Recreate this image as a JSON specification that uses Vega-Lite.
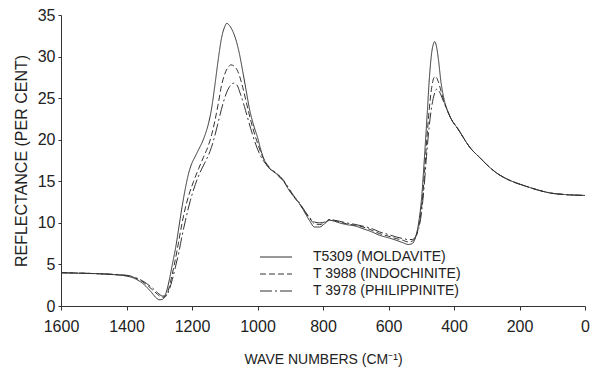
{
  "$schema": "https://vega.github.io/schema/vega-lite/v6.json",
  "autosize": {"type": "none"},
  "width": 524,
  "height": 291,
  "padding": {"left": 61, "top": 15, "right": 7, "bottom": 66},
  "background": "white",
  "config": {
    "view": {"stroke": null},
    "font": "Liberation Sans",
    "axis": {
      "grid": false,
      "domainColor": "#333",
      "domainWidth": 1,
      "tickColor": "#333",
      "labelColor": "#222",
      "titleColor": "#222",
      "labelFont": "Liberation Sans",
      "titleFont": "Liberation Sans",
      "titleFontWeight": "normal",
      "labelFontSize": 16
    }
  },
  "data": {
    "values": [
      {"w": 1600, "r": 4.0, "s": "T5309 (MOLDAVITE)"},
      {"w": 1550, "r": 3.95, "s": "T5309 (MOLDAVITE)"},
      {"w": 1500, "r": 3.9, "s": "T5309 (MOLDAVITE)"},
      {"w": 1450, "r": 3.8, "s": "T5309 (MOLDAVITE)"},
      {"w": 1400, "r": 3.6, "s": "T5309 (MOLDAVITE)"},
      {"w": 1375, "r": 3.3, "s": "T5309 (MOLDAVITE)"},
      {"w": 1350, "r": 2.7, "s": "T5309 (MOLDAVITE)"},
      {"w": 1325, "r": 1.7, "s": "T5309 (MOLDAVITE)"},
      {"w": 1310, "r": 1.0, "s": "T5309 (MOLDAVITE)"},
      {"w": 1300, "r": 0.75, "s": "T5309 (MOLDAVITE)"},
      {"w": 1290, "r": 0.8, "s": "T5309 (MOLDAVITE)"},
      {"w": 1280, "r": 1.5, "s": "T5309 (MOLDAVITE)"},
      {"w": 1270, "r": 3.0, "s": "T5309 (MOLDAVITE)"},
      {"w": 1260, "r": 5.0, "s": "T5309 (MOLDAVITE)"},
      {"w": 1250, "r": 7.0, "s": "T5309 (MOLDAVITE)"},
      {"w": 1240, "r": 9.5, "s": "T5309 (MOLDAVITE)"},
      {"w": 1230, "r": 12.0, "s": "T5309 (MOLDAVITE)"},
      {"w": 1220, "r": 14.2, "s": "T5309 (MOLDAVITE)"},
      {"w": 1210, "r": 16.0, "s": "T5309 (MOLDAVITE)"},
      {"w": 1200, "r": 17.2, "s": "T5309 (MOLDAVITE)"},
      {"w": 1190, "r": 18.0, "s": "T5309 (MOLDAVITE)"},
      {"w": 1180, "r": 18.8, "s": "T5309 (MOLDAVITE)"},
      {"w": 1170, "r": 19.6, "s": "T5309 (MOLDAVITE)"},
      {"w": 1160, "r": 20.6, "s": "T5309 (MOLDAVITE)"},
      {"w": 1150, "r": 21.9, "s": "T5309 (MOLDAVITE)"},
      {"w": 1140, "r": 23.8, "s": "T5309 (MOLDAVITE)"},
      {"w": 1130, "r": 26.6, "s": "T5309 (MOLDAVITE)"},
      {"w": 1120, "r": 29.6, "s": "T5309 (MOLDAVITE)"},
      {"w": 1110, "r": 32.2, "s": "T5309 (MOLDAVITE)"},
      {"w": 1100, "r": 33.6, "s": "T5309 (MOLDAVITE)"},
      {"w": 1094, "r": 34.0, "s": "T5309 (MOLDAVITE)"},
      {"w": 1085, "r": 33.7, "s": "T5309 (MOLDAVITE)"},
      {"w": 1075, "r": 33.0, "s": "T5309 (MOLDAVITE)"},
      {"w": 1065, "r": 31.9, "s": "T5309 (MOLDAVITE)"},
      {"w": 1055, "r": 30.3, "s": "T5309 (MOLDAVITE)"},
      {"w": 1045, "r": 28.2, "s": "T5309 (MOLDAVITE)"},
      {"w": 1035, "r": 26.0, "s": "T5309 (MOLDAVITE)"},
      {"w": 1025, "r": 23.8, "s": "T5309 (MOLDAVITE)"},
      {"w": 1010, "r": 21.5, "s": "T5309 (MOLDAVITE)"},
      {"w": 1000, "r": 20.3, "s": "T5309 (MOLDAVITE)"},
      {"w": 990, "r": 18.8, "s": "T5309 (MOLDAVITE)"},
      {"w": 975, "r": 17.2, "s": "T5309 (MOLDAVITE)"},
      {"w": 960, "r": 16.4, "s": "T5309 (MOLDAVITE)"},
      {"w": 950, "r": 16.2, "s": "T5309 (MOLDAVITE)"},
      {"w": 935, "r": 15.6, "s": "T5309 (MOLDAVITE)"},
      {"w": 920, "r": 15.0, "s": "T5309 (MOLDAVITE)"},
      {"w": 905, "r": 14.0, "s": "T5309 (MOLDAVITE)"},
      {"w": 890, "r": 13.2, "s": "T5309 (MOLDAVITE)"},
      {"w": 870, "r": 12.2, "s": "T5309 (MOLDAVITE)"},
      {"w": 855, "r": 11.2, "s": "T5309 (MOLDAVITE)"},
      {"w": 840, "r": 10.2, "s": "T5309 (MOLDAVITE)"},
      {"w": 826, "r": 9.5, "s": "T5309 (MOLDAVITE)"},
      {"w": 810, "r": 9.5, "s": "T5309 (MOLDAVITE)"},
      {"w": 795, "r": 9.9, "s": "T5309 (MOLDAVITE)"},
      {"w": 780, "r": 10.3, "s": "T5309 (MOLDAVITE)"},
      {"w": 765, "r": 10.2, "s": "T5309 (MOLDAVITE)"},
      {"w": 750, "r": 10.0, "s": "T5309 (MOLDAVITE)"},
      {"w": 729, "r": 9.8, "s": "T5309 (MOLDAVITE)"},
      {"w": 700, "r": 9.6, "s": "T5309 (MOLDAVITE)"},
      {"w": 678, "r": 9.3, "s": "T5309 (MOLDAVITE)"},
      {"w": 650, "r": 8.9, "s": "T5309 (MOLDAVITE)"},
      {"w": 627, "r": 8.5, "s": "T5309 (MOLDAVITE)"},
      {"w": 600, "r": 8.2, "s": "T5309 (MOLDAVITE)"},
      {"w": 576, "r": 7.9, "s": "T5309 (MOLDAVITE)"},
      {"w": 555, "r": 7.6, "s": "T5309 (MOLDAVITE)"},
      {"w": 540, "r": 7.4, "s": "T5309 (MOLDAVITE)"},
      {"w": 528, "r": 7.5, "s": "T5309 (MOLDAVITE)"},
      {"w": 518, "r": 8.2, "s": "T5309 (MOLDAVITE)"},
      {"w": 508, "r": 10.0, "s": "T5309 (MOLDAVITE)"},
      {"w": 500, "r": 12.5, "s": "T5309 (MOLDAVITE)"},
      {"w": 490, "r": 18.0, "s": "T5309 (MOLDAVITE)"},
      {"w": 482, "r": 23.0, "s": "T5309 (MOLDAVITE)"},
      {"w": 475, "r": 27.5, "s": "T5309 (MOLDAVITE)"},
      {"w": 468, "r": 30.5, "s": "T5309 (MOLDAVITE)"},
      {"w": 463, "r": 31.5, "s": "T5309 (MOLDAVITE)"},
      {"w": 459, "r": 31.8, "s": "T5309 (MOLDAVITE)"},
      {"w": 454, "r": 31.3, "s": "T5309 (MOLDAVITE)"},
      {"w": 448, "r": 29.8, "s": "T5309 (MOLDAVITE)"},
      {"w": 440, "r": 27.0, "s": "T5309 (MOLDAVITE)"},
      {"w": 430, "r": 24.8, "s": "T5309 (MOLDAVITE)"},
      {"w": 420, "r": 23.5, "s": "T5309 (MOLDAVITE)"},
      {"w": 410, "r": 22.6, "s": "T5309 (MOLDAVITE)"},
      {"w": 388, "r": 21.3, "s": "T5309 (MOLDAVITE)"},
      {"w": 350, "r": 19.0, "s": "T5309 (MOLDAVITE)"},
      {"w": 320, "r": 17.8, "s": "T5309 (MOLDAVITE)"},
      {"w": 300, "r": 17.0, "s": "T5309 (MOLDAVITE)"},
      {"w": 270, "r": 16.0, "s": "T5309 (MOLDAVITE)"},
      {"w": 240, "r": 15.3, "s": "T5309 (MOLDAVITE)"},
      {"w": 210, "r": 14.8, "s": "T5309 (MOLDAVITE)"},
      {"w": 180, "r": 14.4, "s": "T5309 (MOLDAVITE)"},
      {"w": 148, "r": 14.0, "s": "T5309 (MOLDAVITE)"},
      {"w": 107, "r": 13.6, "s": "T5309 (MOLDAVITE)"},
      {"w": 60, "r": 13.4, "s": "T5309 (MOLDAVITE)"},
      {"w": 0, "r": 13.3, "s": "T5309 (MOLDAVITE)"},

      {"w": 1600, "r": 4.0, "s": "T 3988 (INDOCHINITE)"},
      {"w": 1500, "r": 3.9, "s": "T 3988 (INDOCHINITE)"},
      {"w": 1400, "r": 3.65, "s": "T 3988 (INDOCHINITE)"},
      {"w": 1375, "r": 3.4, "s": "T 3988 (INDOCHINITE)"},
      {"w": 1350, "r": 2.9, "s": "T 3988 (INDOCHINITE)"},
      {"w": 1325, "r": 2.1, "s": "T 3988 (INDOCHINITE)"},
      {"w": 1305, "r": 1.4, "s": "T 3988 (INDOCHINITE)"},
      {"w": 1295, "r": 1.1, "s": "T 3988 (INDOCHINITE)"},
      {"w": 1285, "r": 1.05, "s": "T 3988 (INDOCHINITE)"},
      {"w": 1275, "r": 1.6, "s": "T 3988 (INDOCHINITE)"},
      {"w": 1265, "r": 3.0, "s": "T 3988 (INDOCHINITE)"},
      {"w": 1255, "r": 4.8, "s": "T 3988 (INDOCHINITE)"},
      {"w": 1245, "r": 6.8, "s": "T 3988 (INDOCHINITE)"},
      {"w": 1235, "r": 9.0, "s": "T 3988 (INDOCHINITE)"},
      {"w": 1225, "r": 11.0, "s": "T 3988 (INDOCHINITE)"},
      {"w": 1210, "r": 13.3, "s": "T 3988 (INDOCHINITE)"},
      {"w": 1195, "r": 15.0, "s": "T 3988 (INDOCHINITE)"},
      {"w": 1180, "r": 16.5, "s": "T 3988 (INDOCHINITE)"},
      {"w": 1165, "r": 17.9, "s": "T 3988 (INDOCHINITE)"},
      {"w": 1150, "r": 19.3, "s": "T 3988 (INDOCHINITE)"},
      {"w": 1140, "r": 20.6, "s": "T 3988 (INDOCHINITE)"},
      {"w": 1130, "r": 22.3, "s": "T 3988 (INDOCHINITE)"},
      {"w": 1120, "r": 24.3, "s": "T 3988 (INDOCHINITE)"},
      {"w": 1110, "r": 26.5, "s": "T 3988 (INDOCHINITE)"},
      {"w": 1100, "r": 27.9, "s": "T 3988 (INDOCHINITE)"},
      {"w": 1090, "r": 28.7, "s": "T 3988 (INDOCHINITE)"},
      {"w": 1081, "r": 29.0, "s": "T 3988 (INDOCHINITE)"},
      {"w": 1070, "r": 28.8, "s": "T 3988 (INDOCHINITE)"},
      {"w": 1060, "r": 28.2, "s": "T 3988 (INDOCHINITE)"},
      {"w": 1045, "r": 26.3, "s": "T 3988 (INDOCHINITE)"},
      {"w": 1030, "r": 23.8, "s": "T 3988 (INDOCHINITE)"},
      {"w": 1015, "r": 21.5, "s": "T 3988 (INDOCHINITE)"},
      {"w": 1000, "r": 19.6, "s": "T 3988 (INDOCHINITE)"},
      {"w": 985, "r": 18.0, "s": "T 3988 (INDOCHINITE)"},
      {"w": 970, "r": 17.0, "s": "T 3988 (INDOCHINITE)"},
      {"w": 955, "r": 16.3, "s": "T 3988 (INDOCHINITE)"},
      {"w": 940, "r": 15.8, "s": "T 3988 (INDOCHINITE)"},
      {"w": 920, "r": 15.0, "s": "T 3988 (INDOCHINITE)"},
      {"w": 905, "r": 14.1, "s": "T 3988 (INDOCHINITE)"},
      {"w": 890, "r": 13.2, "s": "T 3988 (INDOCHINITE)"},
      {"w": 870, "r": 12.2, "s": "T 3988 (INDOCHINITE)"},
      {"w": 855, "r": 11.3, "s": "T 3988 (INDOCHINITE)"},
      {"w": 840, "r": 10.5, "s": "T 3988 (INDOCHINITE)"},
      {"w": 826, "r": 9.9, "s": "T 3988 (INDOCHINITE)"},
      {"w": 810, "r": 9.8, "s": "T 3988 (INDOCHINITE)"},
      {"w": 795, "r": 10.0, "s": "T 3988 (INDOCHINITE)"},
      {"w": 780, "r": 10.4, "s": "T 3988 (INDOCHINITE)"},
      {"w": 765, "r": 10.3, "s": "T 3988 (INDOCHINITE)"},
      {"w": 750, "r": 10.1, "s": "T 3988 (INDOCHINITE)"},
      {"w": 729, "r": 9.9, "s": "T 3988 (INDOCHINITE)"},
      {"w": 700, "r": 9.7, "s": "T 3988 (INDOCHINITE)"},
      {"w": 678, "r": 9.5, "s": "T 3988 (INDOCHINITE)"},
      {"w": 650, "r": 9.1, "s": "T 3988 (INDOCHINITE)"},
      {"w": 627, "r": 8.7, "s": "T 3988 (INDOCHINITE)"},
      {"w": 600, "r": 8.4, "s": "T 3988 (INDOCHINITE)"},
      {"w": 576, "r": 8.1, "s": "T 3988 (INDOCHINITE)"},
      {"w": 555, "r": 7.9, "s": "T 3988 (INDOCHINITE)"},
      {"w": 540, "r": 7.7, "s": "T 3988 (INDOCHINITE)"},
      {"w": 528, "r": 7.8, "s": "T 3988 (INDOCHINITE)"},
      {"w": 518, "r": 8.2, "s": "T 3988 (INDOCHINITE)"},
      {"w": 508, "r": 9.5, "s": "T 3988 (INDOCHINITE)"},
      {"w": 500, "r": 11.5, "s": "T 3988 (INDOCHINITE)"},
      {"w": 492, "r": 15.0, "s": "T 3988 (INDOCHINITE)"},
      {"w": 484, "r": 19.5, "s": "T 3988 (INDOCHINITE)"},
      {"w": 476, "r": 23.5, "s": "T 3988 (INDOCHINITE)"},
      {"w": 468, "r": 26.3, "s": "T 3988 (INDOCHINITE)"},
      {"w": 462, "r": 27.4, "s": "T 3988 (INDOCHINITE)"},
      {"w": 457, "r": 27.6, "s": "T 3988 (INDOCHINITE)"},
      {"w": 450, "r": 27.2, "s": "T 3988 (INDOCHINITE)"},
      {"w": 442, "r": 26.2, "s": "T 3988 (INDOCHINITE)"},
      {"w": 432, "r": 24.8, "s": "T 3988 (INDOCHINITE)"},
      {"w": 420, "r": 23.5, "s": "T 3988 (INDOCHINITE)"},
      {"w": 410, "r": 22.6, "s": "T 3988 (INDOCHINITE)"},
      {"w": 388, "r": 21.3, "s": "T 3988 (INDOCHINITE)"},
      {"w": 350, "r": 19.0, "s": "T 3988 (INDOCHINITE)"},
      {"w": 320, "r": 17.8, "s": "T 3988 (INDOCHINITE)"},
      {"w": 300, "r": 17.0, "s": "T 3988 (INDOCHINITE)"},
      {"w": 270, "r": 16.0, "s": "T 3988 (INDOCHINITE)"},
      {"w": 240, "r": 15.3, "s": "T 3988 (INDOCHINITE)"},
      {"w": 210, "r": 14.8, "s": "T 3988 (INDOCHINITE)"},
      {"w": 180, "r": 14.4, "s": "T 3988 (INDOCHINITE)"},
      {"w": 148, "r": 14.0, "s": "T 3988 (INDOCHINITE)"},
      {"w": 107, "r": 13.6, "s": "T 3988 (INDOCHINITE)"},
      {"w": 60, "r": 13.4, "s": "T 3988 (INDOCHINITE)"},
      {"w": 0, "r": 13.3, "s": "T 3988 (INDOCHINITE)"},

      {"w": 1600, "r": 4.0, "s": "T 3978 (PHILIPPINITE)"},
      {"w": 1500, "r": 3.9, "s": "T 3978 (PHILIPPINITE)"},
      {"w": 1400, "r": 3.7, "s": "T 3978 (PHILIPPINITE)"},
      {"w": 1375, "r": 3.45, "s": "T 3978 (PHILIPPINITE)"},
      {"w": 1350, "r": 3.0, "s": "T 3978 (PHILIPPINITE)"},
      {"w": 1325, "r": 2.3, "s": "T 3978 (PHILIPPINITE)"},
      {"w": 1305, "r": 1.6, "s": "T 3978 (PHILIPPINITE)"},
      {"w": 1290, "r": 1.2, "s": "T 3978 (PHILIPPINITE)"},
      {"w": 1280, "r": 1.2, "s": "T 3978 (PHILIPPINITE)"},
      {"w": 1270, "r": 1.9, "s": "T 3978 (PHILIPPINITE)"},
      {"w": 1260, "r": 3.2, "s": "T 3978 (PHILIPPINITE)"},
      {"w": 1250, "r": 4.8, "s": "T 3978 (PHILIPPINITE)"},
      {"w": 1240, "r": 6.5, "s": "T 3978 (PHILIPPINITE)"},
      {"w": 1230, "r": 8.5, "s": "T 3978 (PHILIPPINITE)"},
      {"w": 1220, "r": 10.3, "s": "T 3978 (PHILIPPINITE)"},
      {"w": 1205, "r": 12.7, "s": "T 3978 (PHILIPPINITE)"},
      {"w": 1190, "r": 14.6, "s": "T 3978 (PHILIPPINITE)"},
      {"w": 1175, "r": 16.1, "s": "T 3978 (PHILIPPINITE)"},
      {"w": 1160, "r": 17.3, "s": "T 3978 (PHILIPPINITE)"},
      {"w": 1145, "r": 18.6, "s": "T 3978 (PHILIPPINITE)"},
      {"w": 1135, "r": 19.8, "s": "T 3978 (PHILIPPINITE)"},
      {"w": 1125, "r": 21.3, "s": "T 3978 (PHILIPPINITE)"},
      {"w": 1115, "r": 22.9, "s": "T 3978 (PHILIPPINITE)"},
      {"w": 1105, "r": 24.4, "s": "T 3978 (PHILIPPINITE)"},
      {"w": 1095, "r": 25.6, "s": "T 3978 (PHILIPPINITE)"},
      {"w": 1085, "r": 26.4, "s": "T 3978 (PHILIPPINITE)"},
      {"w": 1073, "r": 26.8, "s": "T 3978 (PHILIPPINITE)"},
      {"w": 1063, "r": 26.6, "s": "T 3978 (PHILIPPINITE)"},
      {"w": 1053, "r": 25.6, "s": "T 3978 (PHILIPPINITE)"},
      {"w": 1040, "r": 24.0, "s": "T 3978 (PHILIPPINITE)"},
      {"w": 1030, "r": 22.6, "s": "T 3978 (PHILIPPINITE)"},
      {"w": 1015, "r": 20.6, "s": "T 3978 (PHILIPPINITE)"},
      {"w": 1005, "r": 19.4, "s": "T 3978 (PHILIPPINITE)"},
      {"w": 990, "r": 18.0, "s": "T 3978 (PHILIPPINITE)"},
      {"w": 975, "r": 17.1, "s": "T 3978 (PHILIPPINITE)"},
      {"w": 955, "r": 16.3, "s": "T 3978 (PHILIPPINITE)"},
      {"w": 940, "r": 15.9, "s": "T 3978 (PHILIPPINITE)"},
      {"w": 920, "r": 15.1, "s": "T 3978 (PHILIPPINITE)"},
      {"w": 905, "r": 14.2, "s": "T 3978 (PHILIPPINITE)"},
      {"w": 890, "r": 13.3, "s": "T 3978 (PHILIPPINITE)"},
      {"w": 870, "r": 12.3, "s": "T 3978 (PHILIPPINITE)"},
      {"w": 855, "r": 11.4, "s": "T 3978 (PHILIPPINITE)"},
      {"w": 840, "r": 10.6, "s": "T 3978 (PHILIPPINITE)"},
      {"w": 826, "r": 10.1, "s": "T 3978 (PHILIPPINITE)"},
      {"w": 810, "r": 10.0, "s": "T 3978 (PHILIPPINITE)"},
      {"w": 795, "r": 10.1, "s": "T 3978 (PHILIPPINITE)"},
      {"w": 780, "r": 10.4, "s": "T 3978 (PHILIPPINITE)"},
      {"w": 765, "r": 10.3, "s": "T 3978 (PHILIPPINITE)"},
      {"w": 750, "r": 10.2, "s": "T 3978 (PHILIPPINITE)"},
      {"w": 729, "r": 10.0, "s": "T 3978 (PHILIPPINITE)"},
      {"w": 700, "r": 9.8, "s": "T 3978 (PHILIPPINITE)"},
      {"w": 678, "r": 9.6, "s": "T 3978 (PHILIPPINITE)"},
      {"w": 650, "r": 9.3, "s": "T 3978 (PHILIPPINITE)"},
      {"w": 627, "r": 8.9, "s": "T 3978 (PHILIPPINITE)"},
      {"w": 600, "r": 8.6, "s": "T 3978 (PHILIPPINITE)"},
      {"w": 576, "r": 8.3, "s": "T 3978 (PHILIPPINITE)"},
      {"w": 555, "r": 8.1, "s": "T 3978 (PHILIPPINITE)"},
      {"w": 540, "r": 8.0, "s": "T 3978 (PHILIPPINITE)"},
      {"w": 528, "r": 8.0, "s": "T 3978 (PHILIPPINITE)"},
      {"w": 518, "r": 8.3, "s": "T 3978 (PHILIPPINITE)"},
      {"w": 508, "r": 9.3, "s": "T 3978 (PHILIPPINITE)"},
      {"w": 500, "r": 11.0, "s": "T 3978 (PHILIPPINITE)"},
      {"w": 492, "r": 14.0, "s": "T 3978 (PHILIPPINITE)"},
      {"w": 484, "r": 18.0, "s": "T 3978 (PHILIPPINITE)"},
      {"w": 476, "r": 21.5, "s": "T 3978 (PHILIPPINITE)"},
      {"w": 468, "r": 24.0, "s": "T 3978 (PHILIPPINITE)"},
      {"w": 460, "r": 25.5, "s": "T 3978 (PHILIPPINITE)"},
      {"w": 452, "r": 26.1, "s": "T 3978 (PHILIPPINITE)"},
      {"w": 445, "r": 25.8, "s": "T 3978 (PHILIPPINITE)"},
      {"w": 437, "r": 25.1, "s": "T 3978 (PHILIPPINITE)"},
      {"w": 428, "r": 24.2, "s": "T 3978 (PHILIPPINITE)"},
      {"w": 420, "r": 23.5, "s": "T 3978 (PHILIPPINITE)"},
      {"w": 410, "r": 22.6, "s": "T 3978 (PHILIPPINITE)"},
      {"w": 388, "r": 21.3, "s": "T 3978 (PHILIPPINITE)"},
      {"w": 350, "r": 19.0, "s": "T 3978 (PHILIPPINITE)"},
      {"w": 320, "r": 17.8, "s": "T 3978 (PHILIPPINITE)"},
      {"w": 300, "r": 17.0, "s": "T 3978 (PHILIPPINITE)"},
      {"w": 270, "r": 16.0, "s": "T 3978 (PHILIPPINITE)"},
      {"w": 240, "r": 15.3, "s": "T 3978 (PHILIPPINITE)"},
      {"w": 210, "r": 14.8, "s": "T 3978 (PHILIPPINITE)"},
      {"w": 180, "r": 14.4, "s": "T 3978 (PHILIPPINITE)"},
      {"w": 148, "r": 14.0, "s": "T 3978 (PHILIPPINITE)"},
      {"w": 107, "r": 13.6, "s": "T 3978 (PHILIPPINITE)"},
      {"w": 60, "r": 13.4, "s": "T 3978 (PHILIPPINITE)"},
      {"w": 0, "r": 13.3, "s": "T 3978 (PHILIPPINITE)"}
    ]
  },
  "mark": {"type": "line", "stroke": "#333", "strokeWidth": 1, "interpolate": "monotone"},
  "encoding": {
    "x": {
      "field": "w",
      "type": "quantitative",
      "scale": {"domain": [0, 1600], "reverse": true, "nice": false},
      "axis": {
        "values": [1600, 1400, 1200, 1000, 800, 600, 400, 200, 0],
        "format": "d",
        "title": "WAVE NUMBERS (CM⁻¹)",
        "titleFontSize": 14,
        "titlePadding": 18,
        "tickSize": 4,
        "labelPadding": 8,
        "labelFlush": false
      }
    },
    "y": {
      "field": "r",
      "type": "quantitative",
      "scale": {"domain": [0, 35], "nice": false},
      "axis": {
        "values": [0, 5, 10, 15, 20, 25, 30, 35],
        "title": "REFLECTANCE (PER CENT)",
        "titleFontSize": 16,
        "titlePadding": 8,
        "tickSize": 3,
        "labelPadding": 3,
        "labelFlush": false
      }
    },
    "strokeDash": {
      "field": "s",
      "type": "nominal",
      "scale": {
        "domain": ["T5309 (MOLDAVITE)", "T 3988 (INDOCHINITE)", "T 3978 (PHILIPPINITE)"],
        "range": [[1, 0], [6, 3], [12, 3, 2, 3]]
      },
      "legend": {
        "title": null,
        "orient": "none",
        "legendX": 208,
        "legendY": 235,
        "padding": 0,
        "symbolType": "M-3.2,0H3.2",
        "symbolSize": 100,
        "symbolStrokeColor": "#333",
        "symbolStrokeWidth": 1,
        "labelFont": "Liberation Sans",
        "labelFontSize": 14,
        "labelColor": "#222",
        "labelOffset": 30,
        "rowPadding": 3
      }
    }
  }
}
